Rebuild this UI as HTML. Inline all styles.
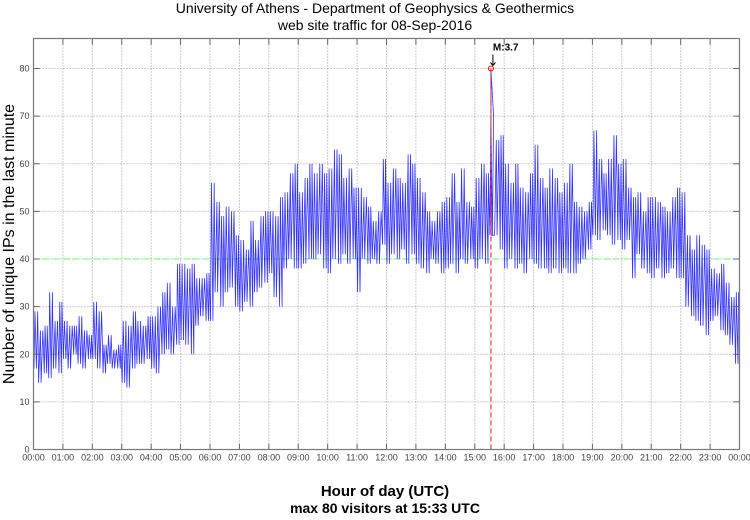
<!DOCTYPE html>
<html><head><meta charset="utf-8"><style>
body{margin:0;background:#fff;width:750px;height:515px;overflow:hidden;font-family:"Liberation Sans",sans-serif}
</style></head><body>
<svg id="chart" width="750" height="515" xmlns="http://www.w3.org/2000/svg">
<text x="375" y="13" text-anchor="middle" font-size="14">University of Athens - Department of Geophysics &amp; Geothermics</text>
<text x="375" y="30" text-anchor="middle" font-size="14">web site traffic for 08-Sep-2016</text>
<text transform="translate(14,244) rotate(-90)" text-anchor="middle" font-size="16">Number of unique IPs in the last minute</text>
<text x="385" y="496" text-anchor="middle" font-size="15" font-weight="bold">Hour of day (UTC)</text>
<text x="385" y="513" text-anchor="middle" font-size="14" font-weight="bold">max 80 visitors at 15:33 UTC</text>
<g id="grid"></g><g id="series"></g><g id="marks"></g><g id="axes"></g>
</svg>
<script>
const yTicks=[0,10,20,30,40,50,60,70,80];
const xTickHours=[0,1,2,3,4,5,6,7,8,9,10,11,12,13,14,15,16,17,18,19,20,21,22,23,24];
const xTickLabels=["00:00","01:00","02:00","03:00","04:00","05:00","06:00","07:00","08:00","09:00","10:00","11:00","12:00","13:00","14:00","15:00","16:00","17:00","18:00","19:00","20:00","21:00","22:00","23:00","00:00"];
const threshold=40;
const peakMinute=933;
const peakValue=80;
const peakLabel="M:3.7";
// 10-minute slot lows and highs (visitors)
const slotLow=[17,14,16,15,17,16, 19,17,20,18,17,19, 19,17,16,18,17,17, 14,13,17,18,18,19, 17,16,20,21,20,22, 23,22,20,26,28,27,
27,33,30,33,34,30, 29,31,30,33,34,35, 37,32,30,38,40,38, 38,39,40,40,41,38, 37,40,39,41,39,40, 33,40,39,40,39,43,
39,41,40,42,39,41, 39,38,37,40,39,37, 38,39,37,40,39,40, 38,40,39,45,45,42, 38,40,38,39,37,40, 39,38,38,37,38,37,
38,37,37,39,40,42, 45,44,46,45,43,44, 42,44,36,41,38,37, 36,38,36,37,38,36, 36,30,28,27,26,24, 27,28,25,24,22,18];
const slotHigh=[29,25,26,33,27,31, 27,26,26,28,25,24, 31,29,22,24,21,22, 27,26,29,27,26,28, 28,30,33,35,30,39, 39,38,39,36,36,37,
56,52,49,51,50,45, 44,42,48,44,49,50, 50,49,53,54,58,60, 54,57,60,58,60,58, 59,63,62,57,59,55, 55,53,51,48,50,61,
56,59,57,56,62,60, 57,54,50,48,50,52, 53,58,52,59,52,51, 57,60,58,70,65,66, 60,56,60,55,54,58, 64,57,55,59,57,54,
56,60,52,51,50,52, 67,61,58,61,66,60, 61,55,53,54,50,53, 53,52,51,50,53,55, 54,45,42,45,43,42, 38,37,39,35,32,33];
const NS="http://www.w3.org/2000/svg";
const L=33.5,R=739.5,T=38.5,B=449.5,YMAX=86.3;
const xs=m=>L+(m/1440)*(R-L);
const ys=v=>B-(v/YMAX)*(B-T);
function mk(tag,parent,attrs){const e=document.createElementNS(NS,tag);for(const k in attrs)e.setAttribute(k,attrs[k]);parent.appendChild(e);return e;}
const grid=document.getElementById('grid'),axes=document.getElementById('axes'),series=document.getElementById('series'),marks=document.getElementById('marks');
yTicks.forEach(v=>{
  const y=ys(v);
  if(v>0){const g=mk('line',grid,{x1:L,x2:R,y1:y,y2:y,stroke:'#999','stroke-dasharray':'1,2','stroke-width':1});
  
  }
  mk('line',axes,{x1:L,x2:L+6,y1:y,y2:y,stroke:'#666'});
  mk('line',axes,{x1:R-6,x2:R,y1:y,y2:y,stroke:'#666'});
  const t=mk('text',axes,{x:L-4,y:y+3,'text-anchor':'end','font-size':9,fill:'#444'});
  t.textContent=v;
  
  
});
xTickHours.forEach((h,i)=>{
  const x=xs(h*60);
  if(h>0&&h<24){const g=mk('line',grid,{x1:x,x2:x,y1:T,y2:B,stroke:'#999','stroke-dasharray':'1,2','stroke-width':1});
  
  }
  mk('line',axes,{x1:x,x2:x,y1:B-6,y2:B,stroke:'#666'});
  mk('line',axes,{x1:x,x2:x,y1:T,y2:T+6,stroke:'#666'});
  const t=mk('text',axes,{x:x,y:B+11,'text-anchor':'middle','font-size':9,fill:'#444'});
  t.textContent=xTickLabels[i];
  
  
});
const frame=mk('rect',axes,{x:L,y:T,width:R-L,height:B-T,fill:'none',stroke:'#777','stroke-width':1.2});


const th=mk('line',series,{x1:L,x2:R,y1:ys(threshold),y2:ys(threshold),stroke:'#6f6','stroke-dasharray':'6,4','stroke-width':1});


const offs=[[1,3,6,8.5],[0.5,4,5.5,9],[2,3.5,7,8]];
let pts=[];
slotLow.forEach((lo,i)=>{
  const hi=slotHigh[i];const o=offs[i%3];
  pts.push([xs(i*10+o[0]),ys(lo)],[xs(i*10+o[1]),ys(hi)],[xs(i*10+o[2]),ys(lo)],[xs(i*10+o[3]),ys(hi)]);
  if(i===Math.floor(peakMinute/10)){pts.push([xs(peakMinute),ys(peakValue)],[xs(peakMinute+0.5),ys(lo)]);}
});
const pl=mk('polyline',series,{points:pts.map(p=>p[0].toFixed(1)+','+p[1].toFixed(1)).join(' '),fill:'none',stroke:'#0000ff','stroke-width':0.8,'stroke-opacity':0.8});


const px=xs(peakMinute);
const pv=mk('line',marks,{x1:px,x2:px,y1:ys(peakValue),y2:B,stroke:'#f33','stroke-dasharray':'5,3','stroke-width':1.2});


const pc=mk('circle',marks,{cx:px,cy:ys(peakValue),r:2.5,fill:'none',stroke:'#f00','stroke-width':1});


const ar=mk('path',marks,{d:`M${px+2},${ys(peakValue)-14} L${px+2},${ys(peakValue)-3} M${px-0.5},${ys(peakValue)-6} L${px+2},${ys(peakValue)-3} L${px+4.5},${ys(peakValue)-6}`,stroke:'#000',fill:'none','stroke-width':1});


const pt=mk('text',marks,{x:px+2,y:ys(peakValue)-18,'font-size':10,'font-weight':'bold'});
pt.textContent=peakLabel;


</script>
</body></html>
